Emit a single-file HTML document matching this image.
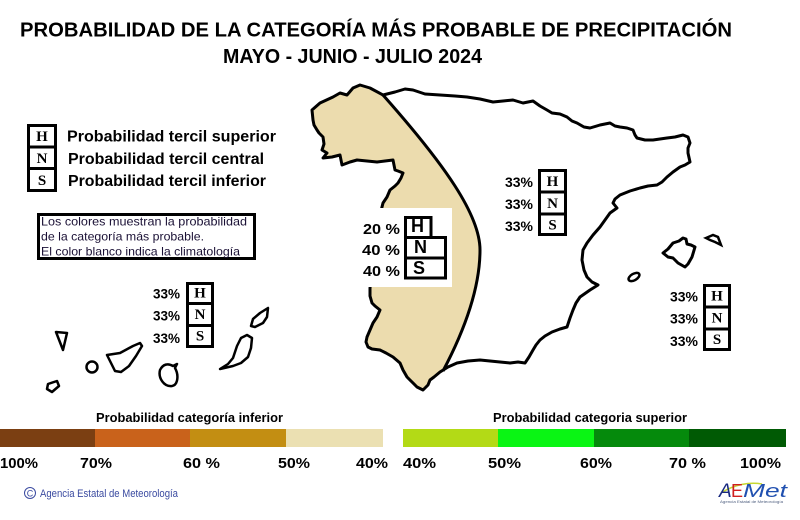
<!DOCTYPE html>
<html>
<head>
<meta charset="utf-8">
<style>
html,body{margin:0;padding:0;background:#fff;}
svg{display:block;}
text{font-family:"Liberation Sans",Arial,sans-serif;}
.serif{font-family:"Liberation Serif","Times New Roman",serif;font-weight:bold;}
</style>
</head>
<body>
<svg width="800" height="520" viewBox="0 0 800 520" xmlns="http://www.w3.org/2000/svg">
<rect x="0" y="0" width="800" height="520" fill="#fff"/>

<!-- Title -->
<text x="20" y="36.5" font-size="20" font-weight="bold" textLength="712" lengthAdjust="spacingAndGlyphs" fill="#000">PROBABILIDAD DE LA CATEGORÍA MÁS PROBABLE DE PRECIPITACIÓN</text>
<text x="223" y="63" font-size="20" font-weight="bold" textLength="259" lengthAdjust="spacingAndGlyphs" fill="#000">MAYO - JUNIO - JULIO 2024</text>

<!-- Legend H N S -->
<rect x="28.5" y="125.5" width="27" height="65" fill="#fff" stroke="#000" stroke-width="3"/>
<line x1="28" y1="147" x2="56" y2="147" stroke="#000" stroke-width="3"/>
<line x1="28" y1="168.5" x2="56" y2="168.5" stroke="#000" stroke-width="3"/>
<text class="serif" x="42" y="141" font-size="15" text-anchor="middle">H</text>
<text class="serif" x="42" y="163" font-size="15" text-anchor="middle">N</text>
<text class="serif" x="42" y="185" font-size="15" text-anchor="middle">S</text>
<text x="67" y="141.5" font-size="16" font-weight="bold" textLength="209" lengthAdjust="spacingAndGlyphs">Probabilidad  tercil superior</text>
<text x="68" y="164" font-size="16" font-weight="bold" textLength="196" lengthAdjust="spacingAndGlyphs">Probabilidad  tercil central</text>
<text x="68" y="186" font-size="16" font-weight="bold" textLength="198" lengthAdjust="spacingAndGlyphs">Probabilidad  tercil inferior</text>

<!-- Note box -->
<rect x="38.5" y="214.5" width="216" height="44" fill="#fff" stroke="#000" stroke-width="3"/>
<text x="41" y="225.5" font-size="12" fill="#1a1035" textLength="206" lengthAdjust="spacingAndGlyphs">Los colores muestran la probabilidad</text>
<text x="41" y="240.5" font-size="12" fill="#1a1035" textLength="163" lengthAdjust="spacingAndGlyphs">de la categoría más probable.</text>
<text x="41" y="255.5" font-size="12" fill="#1a1035" textLength="199" lengthAdjust="spacingAndGlyphs">El color blanco indica la climatología</text>

<!-- Spain: yellow region -->
<path fill="#ecdcae" stroke="none" d="M383,95 L370,88 L360,85 L353,88 L347,95 L340,93 L333,97 L320,103 L312,110 L313,120 L314,125 L317,130 L319,133 L323,137 L324,144 L322,150 L327,153 L323,158 L332,157 L340,155 L341,160 L342,165 L350,162 L357,160 L367,161 L377,162 L385,161 L393,160 L394,165 L395,170 L398,171 L403,173 L401,178 L398,183 L395,186 L390,190 L387,197 L383,203 L380,215 L378,230 L375,250 L372,270 L370,288 L370,296 L372,303 L375,306 L380,310 L377,317 L373,323 L370,330 L367,337 L366,342 L368,347 L372,349 L380,350 L386,353 L393,357 L400,363 L403,370 L407,377 L412,382 L417,387 L423,390 L428,385 L430,380 L434,377 L440,372 L443,371 C462,335 480,290 480,250 C480,215 445,165 383,95 Z"/>
<!-- Division curve -->
<path fill="none" stroke="#000" stroke-width="3" d="M443,371 C462,335 480,290 480,250 C480,215 445,165 383,95"/>
<!-- Spain outline -->
<path fill="none" stroke="#000" stroke-width="3" stroke-linejoin="round" d="M312,110 L320,103 L333,97 L340,93 L347,95 L353,88 L360,85 L370,88 L383,95 L395,92 L405,89 L413,90 L425,94 L440,95 L455,96 L467,97 L480,99 L493,102 L503,101 L513,100 L523,103 L533,101 L540,106 L547,110 L552,113 L560,114 L567,117 L572,121 L577,123 L584,127 L590,128 L600,125 L610,123 L615,126 L620,127 L627,128 L633,130 L635,135 L637,138 L645,140 L653,140 L660,139 L667,138 L675,137 L683,135 L688,137 L690,143 L688,148 L688,153 L690,162 L685,165 L680,167 L673,172 L667,177 L662,182 L657,185 L648,186 L640,188 L630,191 L620,195 L615,199 L613,203 L617,208 L610,213 L605,220 L600,227 L593,235 L587,243 L583,250 L582,260 L584,270 L587,277 L592,282 L598,285 L590,290 L580,297 L576,303 L573,310 L570,318 L567,327 L560,329 L552,332 L545,336 L540,340 L536,345 L533,350 L529,357 L525,363 L518,362 L510,363 L500,362 L490,361 L480,360 L468,361 L457,363 L448,367 L440,372 L434,377 L430,380 L428,385 L423,390 L417,387 L412,382 L407,377 L403,370 L400,363 L393,357 L386,353 L380,350 L372,349 L368,347 L366,342 L367,337 L370,330 L373,323 L377,317 L380,310 L375,306 L372,303 L370,296 L370,288 L372,270 L375,250 L378,230 L380,215 L383,203 L387,197 L390,190 L395,186 L398,183 L401,178 L403,173 L398,171 L395,170 L394,165 L393,160 L385,161 L377,162 L367,161 L357,160 L350,162 L342,165 L341,160 L340,155 L332,157 L323,158 L327,153 L322,150 L324,144 L323,137 L319,133 L317,130 L314,125 L313,120 Z"/>

<!-- Balearic islands -->
<path fill="none" stroke="#000" stroke-width="3" stroke-linejoin="round" d="M663,253 L668,249 L673,243 L679,241 L683,238 L686,239 L687,244 L691,245 L695,247 L692,257 L688,264 L685,267 L678,263 L673,258 L668,257 Z"/>
<path fill="none" stroke="#000" stroke-width="2.5" d="M706,238 L713,235 L718,237 L721,245 L715,242 L710,240 Z"/>
<ellipse cx="634" cy="277" rx="6" ry="3.2" transform="rotate(-30 634 277)" fill="none" stroke="#000" stroke-width="2.5"/>

<!-- Canary islands -->
<g fill="none" stroke="#000" stroke-width="2.5" stroke-linejoin="round">
<path d="M56,332 L67,333 L63,350 Z"/>
<path d="M48,384 L57,381 L59,386 L52,392 L47,389 Z"/>
<circle cx="92" cy="367" r="5.5"/>
<path d="M107,355 L120,353 L133,346 L140,343 L142,346 L136,356 L129,366 L121,372 L115,371 Z"/>
<path d="M160,370 C158,378 164,387 172,386 C178,385 179,375 175,368 L177,364 L173,366 C168,363 163,364 160,370 Z"/>
<path d="M220,369 L228,364 L233,358 L237,346 L241,338 L247,335 L252,338 L251,348 L248,357 L241,363 L233,366 Z"/>
<path d="M251,326 L253,319 L260,313 L268,308 L267,317 L263,323 L255,327 Z"/>
</g>

<!-- Center white box with H N S -->
<rect x="362" y="208" width="90" height="79" fill="#fff"/>
<rect x="405.5" y="217.5" width="25.5" height="20" fill="#fff" stroke="#000" stroke-width="3"/>
<rect x="405.5" y="237.5" width="40" height="40.5" fill="#fff" stroke="#000" stroke-width="3"/>
<line x1="405" y1="258" x2="446" y2="258" stroke="#000" stroke-width="3"/>
<text x="411" y="232" font-size="18" font-weight="bold">H</text>
<text x="414" y="253" font-size="18" font-weight="bold">N</text>
<text x="413" y="274" font-size="18" font-weight="bold">S</text>
<text x="400" y="234" font-size="15" font-weight="bold" text-anchor="end" textLength="37" lengthAdjust="spacingAndGlyphs">20 %</text>
<text x="400" y="255" font-size="15" font-weight="bold" text-anchor="end" textLength="38" lengthAdjust="spacingAndGlyphs">40 %</text>
<text x="400" y="276" font-size="15" font-weight="bold" text-anchor="end" textLength="37" lengthAdjust="spacingAndGlyphs">40 %</text>

<!-- Right-top box -->
<rect x="539.5" y="170.5" width="26" height="64" fill="#fff" stroke="#000" stroke-width="3"/>
<line x1="539" y1="192" x2="566" y2="192" stroke="#000" stroke-width="3"/>
<line x1="539" y1="214" x2="566" y2="214" stroke="#000" stroke-width="3"/>
<text class="serif" x="552.5" y="186" font-size="15" text-anchor="middle">H</text>
<text class="serif" x="552.5" y="208" font-size="15" text-anchor="middle">N</text>
<text class="serif" x="552.5" y="229.5" font-size="15" text-anchor="middle">S</text>
<text x="505" y="187" font-size="14" font-weight="bold" textLength="28" lengthAdjust="spacingAndGlyphs">33%</text>
<text x="505" y="209" font-size="14" font-weight="bold" textLength="28" lengthAdjust="spacingAndGlyphs">33%</text>
<text x="505" y="231" font-size="14" font-weight="bold" textLength="28" lengthAdjust="spacingAndGlyphs">33%</text>

<!-- Canary box -->
<rect x="187.5" y="283.5" width="25" height="63" fill="#fff" stroke="#000" stroke-width="3"/>
<line x1="187" y1="303.5" x2="213" y2="303.5" stroke="#000" stroke-width="3"/>
<line x1="187" y1="325.5" x2="213" y2="325.5" stroke="#000" stroke-width="3"/>
<text class="serif" x="200" y="297.5" font-size="15" text-anchor="middle">H</text>
<text class="serif" x="200" y="319" font-size="15" text-anchor="middle">N</text>
<text class="serif" x="200" y="340.5" font-size="15" text-anchor="middle">S</text>
<text x="153" y="298.5" font-size="14" font-weight="bold" textLength="27" lengthAdjust="spacingAndGlyphs">33%</text>
<text x="153" y="320.5" font-size="14" font-weight="bold" textLength="27" lengthAdjust="spacingAndGlyphs">33%</text>
<text x="153" y="343" font-size="14" font-weight="bold" textLength="27" lengthAdjust="spacingAndGlyphs">33%</text>

<!-- Balearic box -->
<rect x="704.5" y="285.5" width="25" height="64" fill="#fff" stroke="#000" stroke-width="3"/>
<line x1="704" y1="307" x2="730" y2="307" stroke="#000" stroke-width="3"/>
<line x1="704" y1="329" x2="730" y2="329" stroke="#000" stroke-width="3"/>
<text class="serif" x="717" y="300.5" font-size="15" text-anchor="middle">H</text>
<text class="serif" x="717" y="322.5" font-size="15" text-anchor="middle">N</text>
<text class="serif" x="717" y="344" font-size="15" text-anchor="middle">S</text>
<text x="670" y="301.5" font-size="14" font-weight="bold" textLength="28" lengthAdjust="spacingAndGlyphs">33%</text>
<text x="670" y="323.5" font-size="14" font-weight="bold" textLength="28" lengthAdjust="spacingAndGlyphs">33%</text>
<text x="670" y="346" font-size="14" font-weight="bold" textLength="28" lengthAdjust="spacingAndGlyphs">33%</text>

<!-- Color bars -->
<text x="96" y="422" font-size="13" font-weight="bold" textLength="187" lengthAdjust="spacingAndGlyphs">Probabilidad categoría inferior</text>
<text x="493" y="422" font-size="13" font-weight="bold" textLength="194" lengthAdjust="spacingAndGlyphs">Probabilidad categoria superior</text>
<rect x="0" y="429" width="95" height="18" fill="#7b3f12"/>
<rect x="95" y="429" width="95" height="18" fill="#c9621b"/>
<rect x="190" y="429" width="96" height="18" fill="#c38e12"/>
<rect x="286" y="429" width="97" height="18" fill="#ebe0b2"/>
<rect x="403" y="429" width="95" height="18" fill="#b3da16"/>
<rect x="498" y="429" width="96" height="18" fill="#0af514"/>
<rect x="594" y="429" width="95" height="18" fill="#058a0c"/>
<rect x="689" y="429" width="97" height="18" fill="#005a04"/>

<g font-size="15" font-weight="bold">
<text x="0" y="468" textLength="38" lengthAdjust="spacingAndGlyphs">100%</text>
<text x="80" y="468" textLength="32" lengthAdjust="spacingAndGlyphs">70%</text>
<text x="183" y="468" textLength="37" lengthAdjust="spacingAndGlyphs">60 %</text>
<text x="278" y="468" textLength="32" lengthAdjust="spacingAndGlyphs">50%</text>
<text x="356" y="468" textLength="32" lengthAdjust="spacingAndGlyphs">40%</text>
<text x="403" y="468" textLength="33" lengthAdjust="spacingAndGlyphs">40%</text>
<text x="488" y="468" textLength="33" lengthAdjust="spacingAndGlyphs">50%</text>
<text x="580" y="468" textLength="32" lengthAdjust="spacingAndGlyphs">60%</text>
<text x="669" y="468" textLength="37" lengthAdjust="spacingAndGlyphs">70 %</text>
<text x="740" y="468" textLength="41" lengthAdjust="spacingAndGlyphs">100%</text>
</g>

<!-- Footer -->
<circle cx="30" cy="493" r="5.5" fill="none" stroke="#3a4aa0" stroke-width="1"/>
<text x="30" y="496.5" font-size="9" fill="#3a4aa0" text-anchor="middle">C</text>
<text x="40" y="497" font-size="11" fill="#3a4aa0" textLength="138" lengthAdjust="spacingAndGlyphs">Agencia Estatal de Meteorología</text>

<!-- AEMET logo -->
<path d="M721,493 C735,484 750,482 762,484" fill="none" stroke="#c8d830" stroke-width="1.5"/>
<text x="719" y="497" font-size="19" font-style="italic" fill="#1a2a80">A</text>
<text x="731" y="497" font-size="18" fill="#d02020">E</text>
<text x="743" y="497" font-size="18" font-style="italic" fill="#2050b0" textLength="44" lengthAdjust="spacingAndGlyphs">Met</text>
<text x="720" y="503" font-size="3.5" fill="#506080" textLength="63" lengthAdjust="spacingAndGlyphs">Agencia Estatal de Meteorología</text>
</svg>
</body>
</html>
